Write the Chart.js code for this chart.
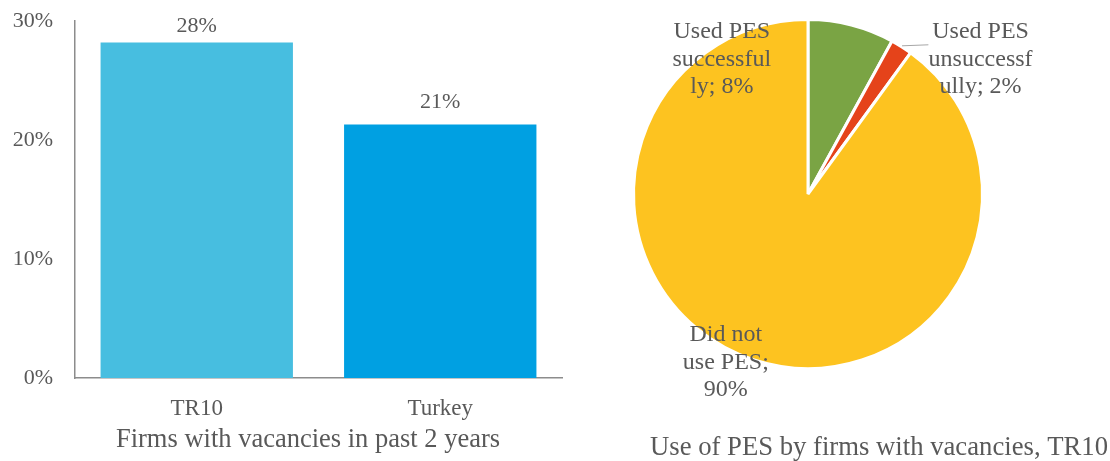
<!DOCTYPE html>
<html><head><meta charset="utf-8">
<script src="https://cdn.jsdelivr.net/npm/chart.js@4"></script>
<style>
html,body{margin:0;padding:0;background:#fff;}
#wrap{position:relative;width:1110px;height:461px;}
#barBox{position:absolute;left:0;top:0;width:616px;height:461px;}
#pieBox{position:absolute;left:620px;top:0;width:490px;height:461px;}
</style></head><body>
<div id="wrap">
  <div id="barBox"><canvas id="bar"></canvas></div>
  <div id="pieBox"><canvas id="pie"></canvas></div>
</div>
<script>
// left: firms with vacancies
const barCats = ['TR10','Turkey'];
const barValues = [28.2, 21.3];
const barColors = ['#47BEE0','#00A0E2'];
const barTitle = 'Firms with vacancies in past 2 years';
const yTicks = [0,10,20,30];

// right: use of PES
const pieNames = ['Used PES successfully','Used PES unsuccessfully','Did not use PES'];
const pieValues = [8, 2, 90];
const pieColors = ['#7AA444','#E5431A','#FDC320'];
const pieLabelLines = [['Used PES','successful','ly; 8%'],['Used PES','unsuccessf','ully; 2%'],['Did not','use PES;','90%']];
const pieTitle = 'Use of PES by firms with vacancies, TR10';

const FONT = "'Liberation Serif','Times New Roman',serif";
const TXT = '#595959';
const AXIS = '#8C8C8C';
Chart.defaults.font.family = FONT;
Chart.defaults.color = TXT;
Chart.defaults.animation = false;

const $ = id => document.getElementById(id);

const barLabelsPlugin = {
  id:'barLabels',
  afterDatasetsDraw(chart){
    const ctx = chart.ctx, meta = chart.getDatasetMeta(0);
    ctx.save();
    ctx.font = '22px ' + FONT; ctx.fillStyle = TXT; ctx.textAlign = 'center'; ctx.textBaseline = 'middle';
    meta.data.forEach((b,i)=>{
      ctx.fillText(Math.round(barValues[i]) + '%', b.x, Math.max(b.y - 22, 26));
    });
    // axis title, centred on the whole chart box like the original
    ctx.font = '26.5px ' + FONT;
    ctx.fillText(barTitle, chart.width/2, 440);
    ctx.restore();
  }
};

new Chart($('bar'), {
  type:'bar',
  data:{labels:barCats, datasets:[{data:barValues, backgroundColor:barColors, categoryPercentage:1, barPercentage:0.79}]},
  options:{
    responsive:true, maintainAspectRatio:false,
    layout:{padding:{top:21, right:54, bottom:0, left:0}},
    plugins:{legend:{display:false}, tooltip:{enabled:false}},
    scales:{
      x:{
        afterFit: s => { s.height = 83; },
        grid:{display:false, drawTicks:false},
        border:{display:true, color:AXIS, width:1.5},
        ticks:{font:{size:23}, color:TXT, padding:17}
      },
      y:{
        min:0, max:30,
        afterBuildTicks: s => { s.ticks = yTicks.map(v=>({value:v})); },
        afterFit: s => { s.width = 75; s.paddingTop = 0; s.paddingBottom = 0; },
        grid:{display:false, drawTicks:false},
        border:{display:true, color:AXIS, width:1.5},
        ticks:{font:{size:22}, color:TXT, padding:22, callback:v=>v+'%'}
      }
    }
  },
  plugins:[barLabelsPlugin]
});

const labelSpots = [[-0.494,-0.77],[0.989,-0.77],[-0.471,0.966]];
const pieLabelsPlugin = {
  id:'pieLabels',
  afterDatasetsDraw(chart){
    const ctx = chart.ctx, meta = chart.getDatasetMeta(0);
    ctx.save();
    ctx.font = '24px ' + FONT; ctx.fillStyle = TXT; ctx.textAlign = 'center'; ctx.textBaseline = 'middle';
    meta.data.forEach((a,i)=>{
      const r = a.outerRadius;
      const cx = a.x + labelSpots[i][0]*r, cy = a.y + labelSpots[i][1]*r;
      const lines = pieLabelLines[i];
      lines.forEach((t,k)=> ctx.fillText(t, cx, cy + (k - (lines.length-1)/2)*27.5));
      if(i===1){
        const mid = (a.startAngle + a.endAngle)/2;
        ctx.strokeStyle = '#A6A6A6'; ctx.lineWidth = 1;
        ctx.beginPath();
        ctx.moveTo(a.x + Math.cos(mid)*(r+1), a.y + Math.sin(mid)*(r+1));
        ctx.lineTo(a.x + 0.69*r, a.y - 0.855*r);
        ctx.stroke();
      }
    });
    ctx.font = '26.7px ' + FONT;
    ctx.fillText(pieTitle, 259, 448);
    ctx.restore();
  }
};

new Chart($('pie'), {
  type:'pie',
  data:{labels:pieNames, datasets:[{data:pieValues, backgroundColor:pieColors, borderColor:'#fff', borderWidth:3}]},
  options:{
    responsive:true, maintainAspectRatio:false,
    layout:{padding:{left:12, top:18, right:126, bottom:91}},
    plugins:{legend:{display:false}, tooltip:{enabled:false}}
  },
  plugins:[pieLabelsPlugin]
});
</script>
</body></html>
